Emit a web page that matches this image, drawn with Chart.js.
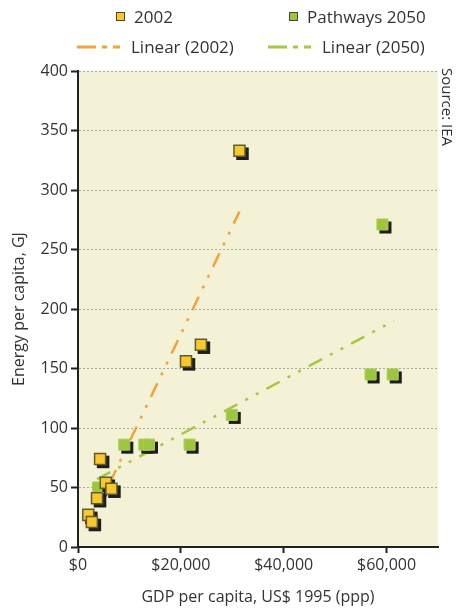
<!DOCTYPE html>
<html>
<head>
<meta charset="utf-8">
<script src="https://cdn.jsdelivr.net/npm/chart.js@4.4.1/dist/chart.umd.min.js"></script>
<style>
  body { margin: 0; background: #fff; font-family: "Open Sans", sans-serif; color: #333; }
  #wrap { position: relative; width: 459px; height: 611px; }
  #legend { position: absolute; left: 0; top: 0; width: 459px; height: 64px; }
  .item { position: absolute; display: flex; align-items: center; font-size: 17px; white-space: nowrap; }
  .box { width: 7px; height: 7px; border: 1px solid #4a4a2a; margin-right: 9px; }
  .item svg { margin-right: 11px; }
  #source { position: absolute; left: 438px; top: 68px; font-size: 15px; transform-origin: 0 0;
            transform: translate(20px, 0) rotate(90deg); white-space: nowrap; }
</style>
</head>
<body>
<div id="wrap">
  <canvas id="chart" width="459" height="611"></canvas>
  <div id="legend"></div>
  <div id="source">Source: IEA</div>
</div>
<script>
// 2002 actuals
const gdp2002 = [2000, 2700, 3700, 4300, 5400, 6500, 21000, 23900, 31400];
const energy2002 = [27, 21, 41, 74, 54, 49, 156, 170, 333];

// Pathways 2050
const gdp2050 = [3900, 9000, 12900, 13800, 21700, 29900, 56900, 59200, 61200];
const energy2050 = [50, 86, 86, 86, 86, 111, 145, 271, 145];

// trend line ends
const trend2002X = [2100, 31400];
const trend2002Y = [17, 282];
const trend2050X = [3700, 61400];
const trend2050Y = [57, 190];

const xTicks = [0, 20000, 40000, 60000];

function toPoints(xs, ys) {
    return xs.map((x, i) => ({ x: x, y: ys[i] }));
}

const yellow = '#fbc82b';
const green = '#9dc63f';
const orangeLine = '#f4a23a';
const greenLine = '#a6c840';

// light yellow plot background
const plotBackground = {
    id: 'plotBackground',
    beforeDraw(chart) {
        const a = chart.chartArea;
        const ctx = chart.ctx;
        ctx.save();
        ctx.fillStyle = '#f4f2d6';
        ctx.fillRect(a.left, a.top, a.right - a.left, a.bottom - a.top);
        ctx.restore();
    }
};

// black drop shadow under the square markers, placed from the drawn elements
const markerShadow = {
    id: 'markerShadow',
    beforeDatasetDraw(chart, args) {
        const ds = chart.data.datasets[args.index];
        if (ds.showLine) return;
        const ctx = chart.ctx;
        ctx.save();
        ctx.fillStyle = '#1e1e1e';
        args.meta.data.forEach(el => {
            const half = el.options.radius * Math.SQRT1_2 + el.options.borderWidth / 2;
            ctx.fillRect(el.x - half + 3, el.y - half + 3, half * 2, half * 2);
        });
        ctx.restore();
    }
};

const ctx = document.getElementById('chart').getContext('2d');
const chart = new Chart(ctx, {
    type: 'scatter',
    data: {
        datasets: [
            {
                label: '2002',
                data: toPoints(gdp2002, energy2002),
                pointStyle: 'rect',
                pointRadius: 7.8,
                backgroundColor: yellow,
                borderColor: '#5e5c30',
                borderWidth: 1.5
            },
            {
                label: 'Pathways 2050',
                data: toPoints(gdp2050, energy2050),
                pointStyle: 'rect',
                pointRadius: 7.8,
                backgroundColor: green,
                borderColor: '#a9cc55',
                borderWidth: 1
            },
            {
                label: 'Linear (2002)',
                data: toPoints(trend2002X, trend2002Y),
                showLine: true,
                pointRadius: 0,
                borderColor: orangeLine,
                borderWidth: 2.5,
                borderDash: [15, 9, 3, 9, 3, 9]
            },
            {
                label: 'Linear (2050)',
                data: toPoints(trend2050X, trend2050Y),
                showLine: true,
                pointRadius: 0,
                borderColor: greenLine,
                borderWidth: 2.5,
                borderDash: [15, 9, 3, 9, 3, 9]
            }
        ]
    },
    options: {
        responsive: false,
        animation: false,
        clip: false,
        layout: { padding: { top: 71, left: 0, right: 21, bottom: 0 } },
        plugins: {
            legend: { display: false },
            tooltip: { enabled: false }
        },
        scales: {
            x: {
                type: 'linear',
                min: 0,
                max: 70000,
                afterBuildTicks: scale => { scale.ticks = xTicks.map(v => ({ value: v })); },
                afterFit: scale => { scale.height = 64; },
                ticks: {
                    padding: 3,
                    color: '#333',
                    font: { family: 'Open Sans', size: 16 },
                    maxRotation: 0,
                    callback: v => '$' + v.toLocaleString('en-US')
                },
                grid: { drawOnChartArea: false, tickLength: 6, tickWidth: 2, tickColor: '#222' },
                border: { color: '#222', width: 2 },
                title: {
                    display: true,
                    text: 'GDP per capita, US$ 1995 (ppp)',
                    color: '#333',
                    font: { family: 'Open Sans', size: 16 },
                    padding: { top: 4, bottom: 4 }
                }
            },
            y: {
                min: 0,
                max: 400,
                afterFit: scale => { scale.width = 78; },
                ticks: {
                    stepSize: 50,
                    padding: 3,
                    color: '#333',
                    font: { family: 'Open Sans', size: 16 }
                },
                grid: {
                    color: '#aaaaaa',
                    lineWidth: 1,
                    tickLength: 7,
                    tickWidth: 2,
                    tickColor: '#222',
                    tickBorderDash: []
                },
                border: { color: '#222', width: 2, dash: [2, 2] },
                title: {
                    display: true,
                    text: 'Energy per capita, GJ',
                    color: '#333',
                    font: { family: 'Open Sans', size: 16 },
                    padding: { top: 10, bottom: 4 }
                }
            }
        }
    },
    plugins: [plotBackground, markerShadow]
});

// legend in two rows of two, built from the datasets
const legendPos = [
    { left: 116, top: 5 },
    { left: 289, top: 5 },
    { left: 77, top: 35 },
    { left: 268, top: 35 }
];
const legend = document.getElementById('legend');
chart.data.datasets.forEach((ds, i) => {
    const item = document.createElement('div');
    item.className = 'item';
    item.style.left = legendPos[i].left + 'px';
    item.style.top = legendPos[i].top + 'px';
    if (ds.showLine) {
        const svg = document.createElementNS('http://www.w3.org/2000/svg', 'svg');
        svg.setAttribute('width', '43');
        svg.setAttribute('height', '6');
        const line = document.createElementNS('http://www.w3.org/2000/svg', 'line');
        line.setAttribute('x1', '0');
        line.setAttribute('y1', '3');
        line.setAttribute('x2', '43');
        line.setAttribute('y2', '3');
        line.setAttribute('stroke', ds.borderColor);
        line.setAttribute('stroke-width', '3');
        line.setAttribute('stroke-dasharray', '19 6 5 6 7');
        svg.appendChild(line);
        item.appendChild(svg);
    } else {
        const box = document.createElement('span');
        box.className = 'box';
        box.style.background = ds.backgroundColor;
        item.appendChild(box);
    }
    const label = document.createElement('span');
    label.textContent = ds.label;
    item.appendChild(label);
    legend.appendChild(item);
});
</script>
</body>
</html>
